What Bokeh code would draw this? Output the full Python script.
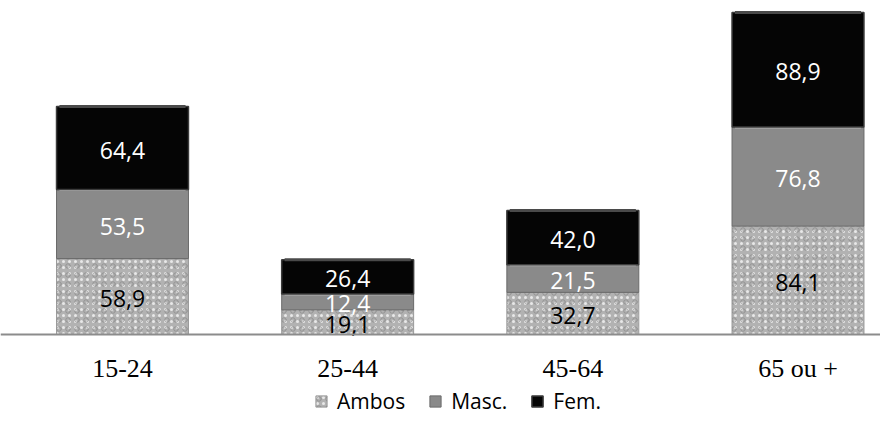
from bokeh.plotting import figure
from bokeh.models import ColumnDataSource, Span, Legend, LegendItem, Range1d
from bokeh.core.properties import value
from bokeh.embed import file_html
from bokeh.resources import INLINE

categories = ["15-24", "25-44", "45-64", "65 ou +"]
ambos = [58.9, 19.1, 32.7, 84.1]
masc = [53.5, 12.4, 21.5, 76.8]
fem = [64.4, 26.4, 42.0, 88.9]
series_names = ["Ambos", "Masc.", "Fem."]

xs = list(range(len(categories)))
b1 = [0.0] * len(xs)
t1 = [a for a in ambos]
t2 = [a + m for a, m in zip(ambos, masc)]
t3 = [a + m + f for a, m, f in zip(ambos, masc, fem)]

def fmt(v):
    return f"{v:.1f}".replace(".", ",")

src = ColumnDataSource(dict(
    x=xs, b1=b1, t1=t1, t2=t2, t3=t3,
    m1=[(a + b) / 2 for a, b in zip(b1, t1)],
    m2=[(a + b) / 2 for a, b in zip(t1, t2)],
    m3=[(a + b) / 2 for a, b in zip(t2, t3)],
    l1=[fmt(v) for v in ambos], l2=[fmt(v) for v in masc], l3=[fmt(v) for v in fem],
    cat=categories,
    xl=[x - 0.28 for x in xs], xr=[x + 0.28 for x in xs],
))

p = figure(width=880, height=416, output_backend="svg", toolbar_location=None,
           x_range=Range1d(-0.5418, 3.3664), y_range=Range1d(-63.6, 259.1),
           min_border=0, outline_line_color=None)
p.axis.visible = False
p.grid.visible = False
p.background_fill_color = "white"

W = 0.586
# Ambos - granite-like texture
r_a = p.vbar(x="x", bottom="b1", top="t1", width=W, source=src,
             fill_color="#b2b2b2", line_color="#9a9a9a", line_width=1,
             hatch_pattern="dot", hatch_color="#e8e8e8", hatch_scale=6, hatch_weight=2)
r_a2 = p.vbar(x="x", bottom="b1", top="t1", width=W, source=src,
              fill_alpha=0, line_color=None,
              hatch_pattern="ring", hatch_color="#7c7c7c", hatch_scale=9,
              hatch_weight=1, hatch_alpha=0.55)
# Masc
r_m = p.vbar(x="x", bottom="t1", top="t2", width=W, source=src,
             fill_color="#8a8a8a", line_color="#6a6a6a", line_width=1)
p.segment(x0="xl", x1="xr", y0="t2", y1="t2", source=src,
          line_color="#b4b4b4", line_width=3)
# Fem
r_f = p.vbar(x="x", bottom="t2", top="t3", width=W, source=src,
             fill_color="#050505", line_color="#3c3c3c", line_width=1.5)
p.segment(x0="xl", x1="xr", y0="t3", y1="t3", source=src,
          line_color="#4a4a4a", line_width=3)

# axis line
p.add_layout(Span(location=0, dimension="width", line_color="#8c8c8c", line_width=2))

lab_font = value("Open Sans")
p.text(x="x", y="m1", text="l1", source=src, text_align="center", text_baseline="middle",
       text_font=lab_font, text_font_size="23px", text_color="black", y_offset=2)
p.text(x="x", y="m2", text="l2", source=src, text_align="center", text_baseline="middle",
       text_font=lab_font, text_font_size="23px", text_color="white", y_offset=2)
p.text(x="x", y="m3", text="l3", source=src, text_align="center", text_baseline="middle",
       text_font=lab_font, text_font_size="23px", text_color="white", y_offset=2)

# category labels
p.text(x="x", y=-26.4, text="cat", source=src, text_align="center", text_baseline="middle",
       text_font=value("Liberation Serif"), text_font_size="26px", text_color="black")

legend = Legend(items=[
    LegendItem(label=series_names[0], renderers=[r_a, r_a2]),
    LegendItem(label=series_names[1], renderers=[r_m]),
    LegendItem(label=series_names[2], renderers=[r_f]),
], orientation="horizontal", location=(314, 1),
    glyph_width=14, glyph_height=14, label_standoff=9, spacing=23,
    padding=0, margin=0, border_line_alpha=0, background_fill_alpha=0,
    label_text_font="Open Sans", label_text_font_size="21px", label_text_color="black")
p.add_layout(legend)

open("out.html", "w").write(file_html(p, INLINE))
